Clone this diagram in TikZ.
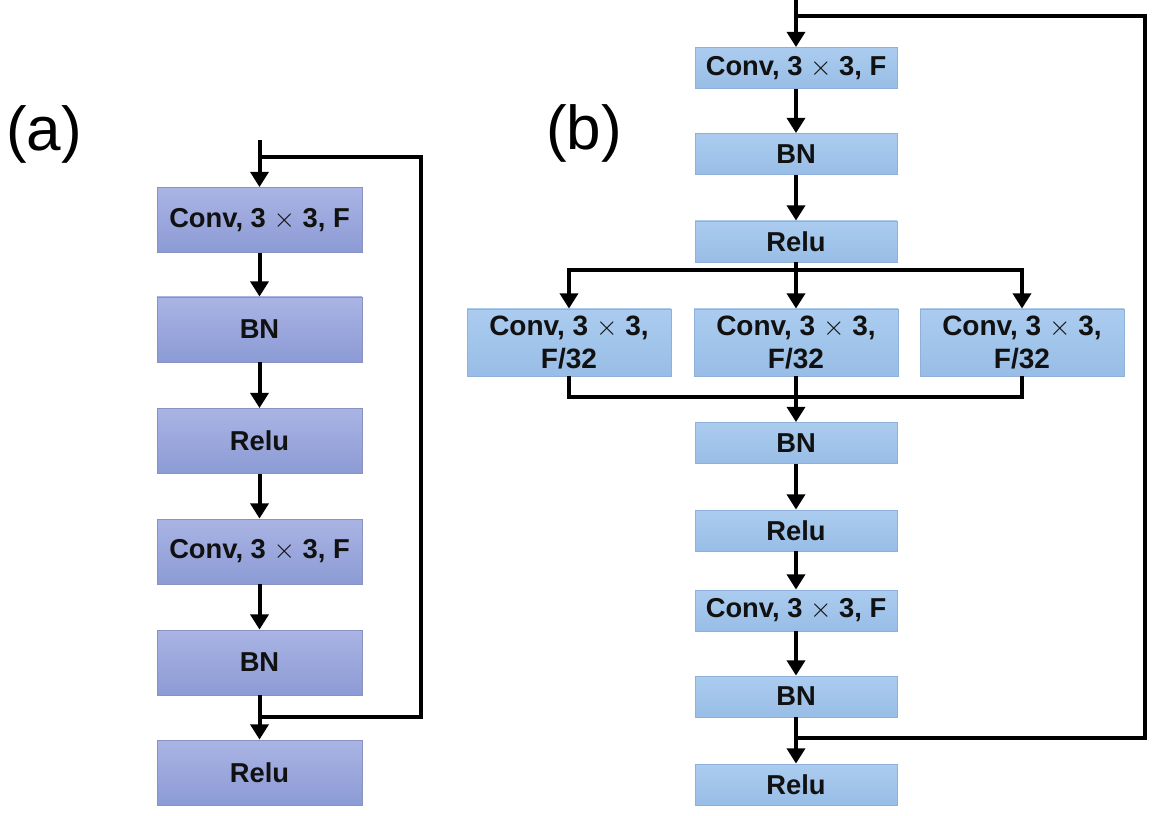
\documentclass[tikz,border=0pt]{standalone}
\usepackage{fontspec}
\setmainfont{Liberation Sans}
\usetikzlibrary{arrows.meta}
\definecolor{atop}{HTML}{AAB4E4}
\definecolor{abot}{HTML}{8C9BD5}
\definecolor{aedge}{HTML}{8893C4}
\definecolor{btop}{HTML}{ABCCEF}
\definecolor{bbot}{HTML}{98BDE6}
\definecolor{bedge}{HTML}{8FB0D9}
\definecolor{txt}{HTML}{111111}
\begin{document}
\begin{tikzpicture}[x=0.75pt,y=-0.75pt,
  boxa/.style={draw=aedge,line width=0.6pt,top color=atop,bottom color=abot,
    minimum width=153.75pt,minimum height=48.75pt,inner sep=0pt,text=txt,
    font=\fontsize{20.5}{24}\selectfont\bfseries},
  boxb/.style={draw=bedge,line width=0.6pt,top color=btop,bottom color=bbot,
    minimum width=151.5pt,minimum height=30.75pt,inner sep=0pt,text=txt,
    font=\fontsize{20.5}{24}\selectfont\bfseries},
  boxc/.style={boxb,minimum width=153pt,minimum height=50.25pt,align=center,
    font=\fontsize{21}{24.75}\selectfont\bfseries},
  arr/.style={line width=3pt,-{Triangle[length=11.5pt,width=13.5pt]}},
  conn/.style={line width=2.3pt,line join=miter},
  lab/.style={font=\fontsize{46.5}{50}\selectfont,inner sep=0pt}]
\useasboundingbox (0,0) rectangle (1157,816);

% labels
\node[lab] (la) at (44,134) {(a)};
\node[lab] (lb) at (584,133) {(b)};

% (a)
\node[boxa] (a1) at (259.5,220) {Conv, 3 $\times$ 3, F};
\node[boxa] (a2) at (259.5,329.5) {BN};
\node[boxa] (a3) at (259.5,441) {Relu};
\node[boxa] (a4) at (259.5,551.5) {Conv, 3 $\times$ 3, F};
\node[boxa] (a5) at (259.5,662.5) {BN};
\node[boxa] (a6) at (259.5,772.5) {Relu};
\coordinate (ain) at (259.5,140);
\coordinate (askip) at (259.5,157);
\coordinate (aR) at (421,717);
\coordinate (aj) at (259.5,717);
\draw[arr] (ain) -- (a1.north);
\draw[arr] (a1.south) -- (a2.north);
\draw[arr] (a2.south) -- (a3.north);
\draw[arr] (a3.south) -- (a4.north);
\draw[arr] (a4.south) -- (a5.north);
\draw[arr] (a5.south) -- (a6.north);
\draw[conn] (askip) -| (aR) -- (aj);

% (b)
\node[boxb] (b1) at (796,68) {Conv, 3 $\times$ 3, F};
\node[boxb] (b2) at (796,154) {BN};
\node[boxb] (b3) at (796,241.5) {Relu};
\node[boxc] (c1) at (569,342.5) {Conv, 3 $\times$ 3,\\F/32};
\node[boxc] (c2) at (796,342.5) {Conv, 3 $\times$ 3,\\F/32};
\node[boxc] (c3) at (1022,342.5) {Conv, 3 $\times$ 3,\\F/32};
\node[boxb] (b4) at (796,443) {BN};
\node[boxb] (b5) at (796,530.5) {Relu};
\node[boxb] (b6) at (796,610.5) {Conv, 3 $\times$ 3, F};
\node[boxb] (b7) at (796,696.5) {BN};
\node[boxb] (b8) at (796,784.5) {Relu};
\coordinate (bin) at (796,0);
\coordinate (bskip) at (796,16);
\coordinate (bR) at (1145,738);
\coordinate (bj) at (796,738);
\coordinate (bs) at (796,270);
\coordinate (bm) at (796,397);
\draw[arr] (bin) -- (b1.north);
\draw[arr] (b1.south) -- (b2.north);
\draw[arr] (b2.south) -- (b3.north);
\draw[conn] (b3.south) -- (bs);
\draw[arr] (bs) -| (c1.north);
\draw[arr] (bs) -| (c3.north);
\draw[arr] (b3.south) -- (c2.north);
\draw[conn] (c1.south) |- (bm);
\draw[conn] (c3.south) |- (bm);
\draw[arr] (c2.south) -- (b4.north);
\draw[arr] (b4.south) -- (b5.north);
\draw[arr] (b5.south) -- (b6.north);
\draw[arr] (b6.south) -- (b7.north);
\draw[arr] (b7.south) -- (b8.north);
\draw[conn] (bskip) -| (bR) -- (bj);
\end{tikzpicture}
\end{document}
